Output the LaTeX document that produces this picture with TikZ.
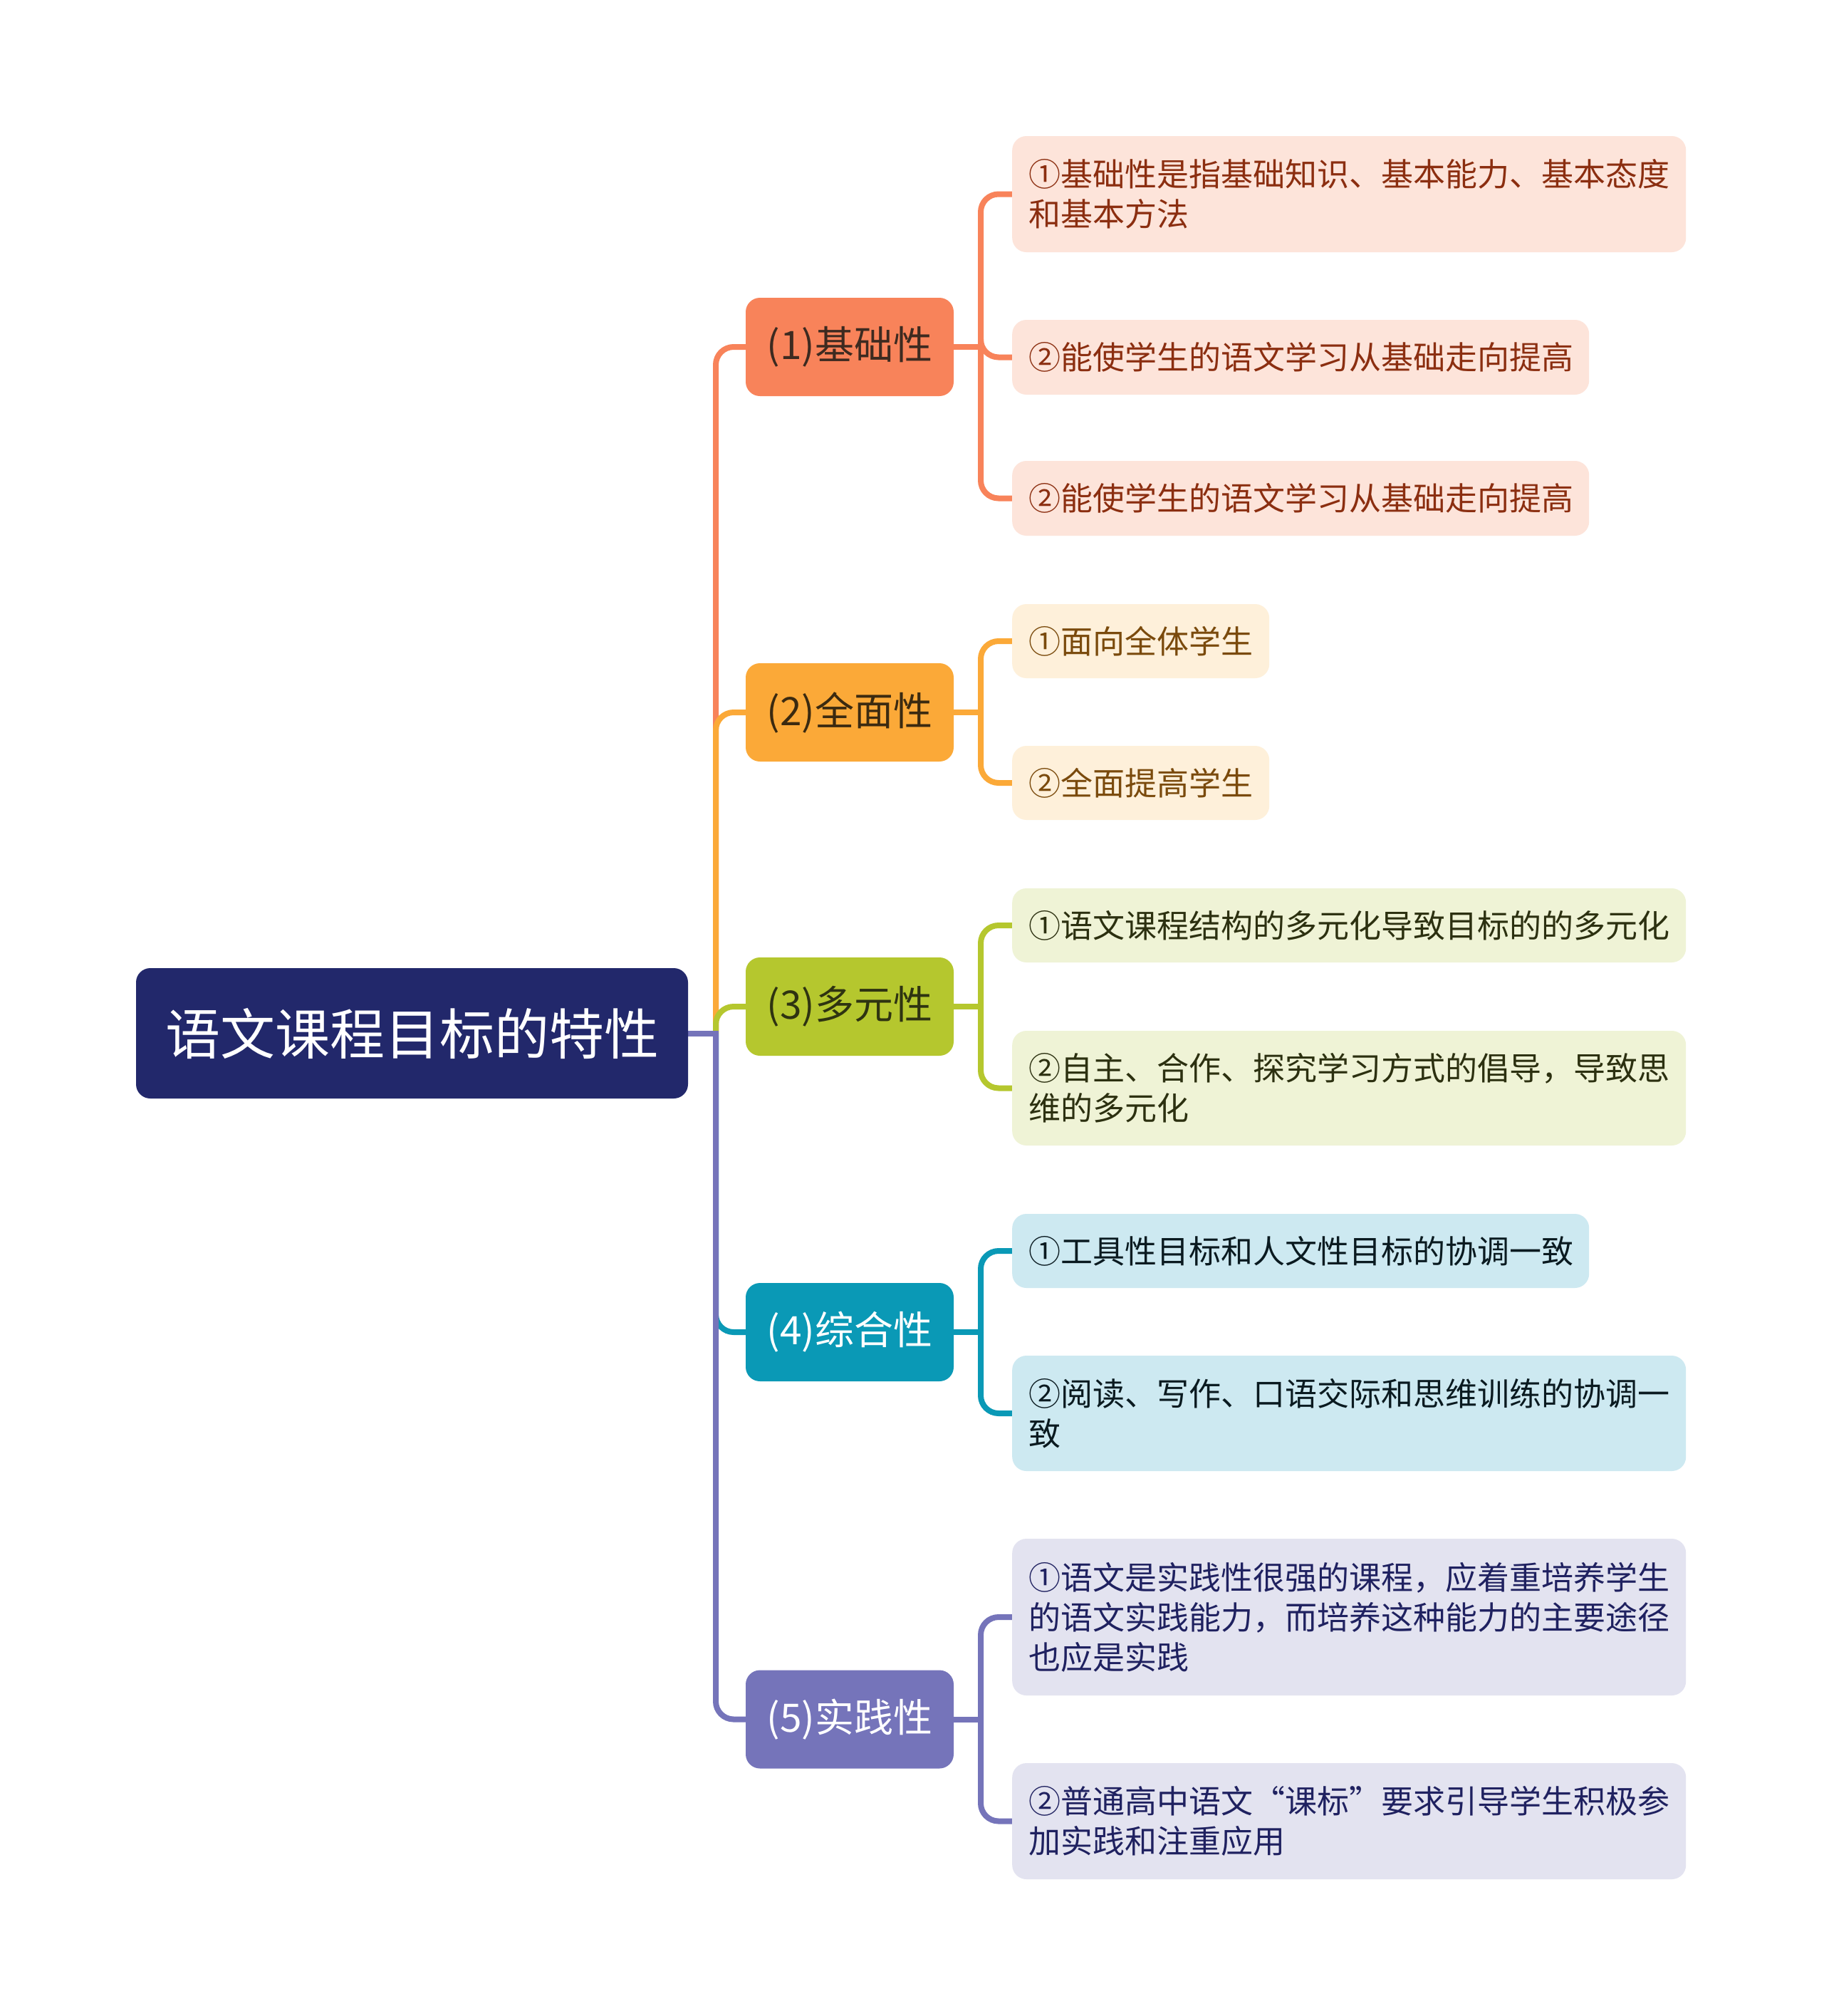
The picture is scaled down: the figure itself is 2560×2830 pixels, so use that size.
\documentclass[tikz,border=0pt]{standalone}
\usepackage{fontspec}
\usetikzlibrary{backgrounds}
\setmainfont{Noto Sans CJK SC}
\definecolor{rootc}{HTML}{22286B}
\definecolor{ca}{HTML}{F8835A}
\definecolor{cb}{HTML}{FBA938}
\definecolor{cc}{HTML}{B5C72E}
\definecolor{cd}{HTML}{0A99B6}
\definecolor{ce}{HTML}{7574BA}
\definecolor{fa}{HTML}{FDE4DA}
\definecolor{fb}{HTML}{FEF0DA}
\definecolor{fc}{HTML}{EFF3D6}
\definecolor{fd}{HTML}{CDE9F1}
\definecolor{fe}{HTML}{E3E3F0}
\definecolor{ta}{HTML}{8B2E10}
\definecolor{tb}{HTML}{7A4A0C}
\definecolor{tc}{HTML}{2C3010}
\definecolor{td}{HTML}{0A1A20}
\definecolor{te}{HTML}{1F2160}
\definecolor{tla}{HTML}{3D2A20}
\definecolor{tlb}{HTML}{3B2A10}
\definecolor{tlc}{HTML}{2E3311}
\begin{document}
\begin{tikzpicture}[x=1pt,y=-1pt,
  rootbox/.style={fill=rootc, rounded corners=20pt, text=white, font=\fontsize{77}{90}\selectfont, minimum width=775pt, minimum height=183pt, inner sep=0pt},
  lonebox/.style={rounded corners=20pt, font=\fontsize{55}{66}\selectfont, minimum width=292pt, minimum height=138pt, inner sep=0pt},
  leafbox/.style={rounded corners=20pt, font=\fontsize{45}{56}\selectfont, align=left, inner xsep=23pt, inner ysep=0pt, anchor=west},
  conn/.style={line width=8pt, rounded corners=25pt},
  stub/.style={line width=8pt, line cap=rect},
]
\useasboundingbox (0,0) rectangle (2560,2830);

% junction coordinates
\coordinate (rj) at (1005,1450.5);
\coordinate (ja) at (1377,487);
\coordinate (jb) at (1377,1000);
\coordinate (jc) at (1377,1413);
\coordinate (jd) at (1377,1870);
\coordinate (je) at (1377,2413.5);

% nodes
\node[rootbox] (root) at (578.5,1450.5) {语文课程目标的特性};
\node[lonebox, fill=ca, text=tla] (na) at (1193,487) {(1)基础性};
\node[lonebox, fill=cb, text=tlb] (nb) at (1193,1000) {(2)全面性};
\node[lonebox, fill=cc, text=tlc] (nc) at (1193,1413) {(3)多元性};
\node[lonebox, fill=cd, text=white] (nd) at (1193,1870) {(4)综合性};
\node[lonebox, fill=ce, text=white] (ne) at (1193,2413.5) {(5)实践性};

\node[leafbox, fill=fa, text=ta, text width=900pt, minimum height=163pt] (a1) at (1421,272.5) {①基础性是指基础知识、基本能力、基本态度\\和基本方法};
\node[leafbox, fill=fa, text=ta, text width=764pt, minimum height=105pt] (a2) at (1421,501.5) {②能使学生的语文学习从基础走向提高};
\node[leafbox, fill=fa, text=ta, text width=764pt, minimum height=105pt] (a3) at (1421,699.5) {②能使学生的语文学习从基础走向提高};

\node[leafbox, fill=fb, text=tb, text width=315pt, minimum height=104pt] (b1) at (1421,900) {①面向全体学生};
\node[leafbox, fill=fb, text=tb, text width=315pt, minimum height=104pt] (b2) at (1421,1099) {②全面提高学生};

\node[leafbox, fill=fc, text=tc, text width=900pt, minimum height=104pt] (c1) at (1421,1299) {①语文课程结构的多元化导致目标的的多元化};
\node[leafbox, fill=fc, text=tc, text width=900pt, minimum height=161pt] (c2) at (1421,1527.5) {②自主、合作、探究学习方式的倡导，导致思\\维的多元化};

\node[leafbox, fill=fd, text=td, text width=764pt, minimum height=104pt] (d1) at (1421,1756) {①工具性目标和人文性目标的协调一致};
\node[leafbox, fill=fd, text=td, text width=900pt, minimum height=162pt] (d2) at (1421,1984) {②阅读、写作、口语交际和思维训练的协调一\\致};

\node[leafbox, fill=fe, text=te, text width=900pt, minimum height=220pt] (e1) at (1421,2270) {①语文是实践性很强的课程，应着重培养学生\\的语文实践能力，而培养这种能力的主要途径\\也应是实践};
\node[leafbox, fill=fe, text=te, text width=900pt, minimum height=163pt] (e2) at (1421,2556.5) {②普通高中语文“课标”要求引导学生积极参\\加实践和注重应用};

% connectors (behind nodes)
\begin{scope}[on background layer]
\fill[white] (0,0) rectangle (2560,2830);
% root to level 1
\draw[stub, ca] (root.east) -- (rj);
\draw[conn, ca] (rj) |- (na.west);
\draw[stub, cb] (root.east) -- (rj);
\draw[conn, cb] (rj) |- (nb.west);
\draw[stub, cc] (root.east) -- (rj);
\draw[conn, cc] (rj) |- (nc.west);
\draw[stub, cd] (root.east) -- (rj);
\draw[conn, cd] (rj) |- (nd.west);
\draw[stub, ce] (root.east) -- (rj);
\draw[conn, ce] (rj) |- (ne.west);
% level 1 to leaves
\draw[stub, ca] (na.east) -- (ja);
\draw[conn, ca] (ja) |- (a1.west);
\draw[conn, ca] (ja) |- (a2.west);
\draw[conn, ca] (ja) |- (a3.west);
\draw[stub, cb] (nb.east) -- (jb);
\draw[conn, cb] (jb) |- (b1.west);
\draw[conn, cb] (jb) |- (b2.west);
\draw[stub, cc] (nc.east) -- (jc);
\draw[conn, cc] (jc) |- (c1.west);
\draw[conn, cc] (jc) |- (c2.west);
\draw[stub, cd] (nd.east) -- (jd);
\draw[conn, cd] (jd) |- (d1.west);
\draw[conn, cd] (jd) |- (d2.west);
\draw[stub, ce] (ne.east) -- (je);
\draw[conn, ce] (je) |- (e1.west);
\draw[conn, ce] (je) |- (e2.west);
\end{scope}
\end{tikzpicture}
\end{document}
